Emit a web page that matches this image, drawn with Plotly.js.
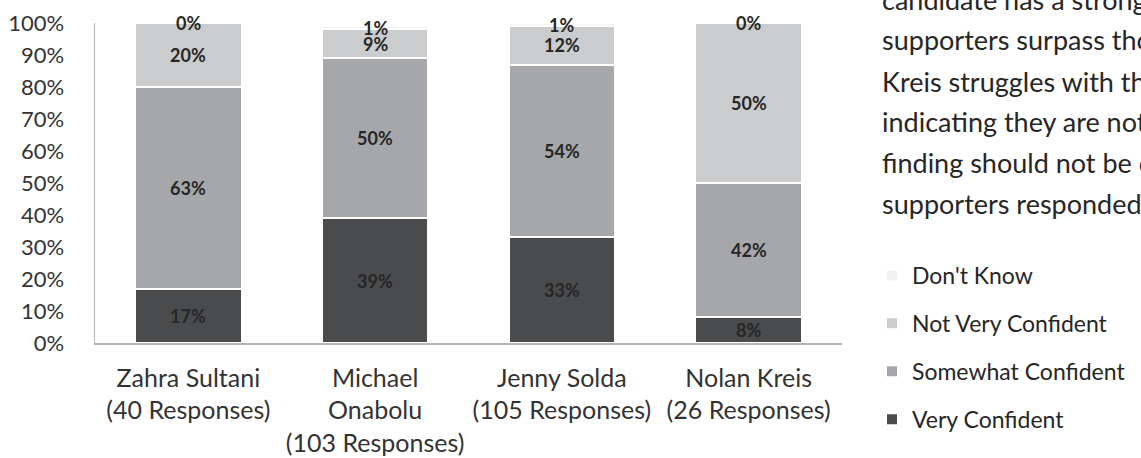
<!DOCTYPE html>
<html>
<head>
<meta charset="utf-8">
<script src="https://cdn.plot.ly/plotly-3.0.1.min.js"></script>
<style>
  html, body { margin: 0; padding: 0; background: #ffffff; }
  #chart { width: 1141px; height: 458px; }
</style>
</head>
<body>
<div id="chart"></div>
<script>
// ---- Data ----
const categories = [
  "Zahra Sultani<br>(40 Responses)",
  "Michael<br>Onabolu<br>(103 Responses)",
  "Jenny Solda<br>(105 Responses)",
  "Nolan Kreis<br>(26 Responses)"
];
const seriesNames = ["Very Confident", "Somewhat Confident", "Not Very Confident", "Don't Know"];
const veryConfident      = [17, 39, 33, 8];
const somewhatConfident  = [63, 50, 54, 42];
const notVeryConfident   = [20, 9, 12, 50];
const dontKnow           = [0, 1, 1, 0];
const sideTextLines = [
  "candidate has a strong base",
  "supporters surpass those of",
  "Kreis struggles with the most",
  "indicating they are not sure",
  "finding should not be over-read",
  "supporters responded."
];

// ---- Styles ----
const FONT = "Lato, 'Open Sans', 'DejaVu Sans', sans-serif";
const colors = ["#4a4b4d", "#a6a7aa", "#cbcccd", "#f2f2f2"];
const allSeries = [veryConfident, somewhatConfident, notVeryConfident, dontKnow];

const traces = allSeries.map((vals, i) => ({
  type: "bar",
  name: seriesNames[i],
  x: categories,
  y: vals,
  marker: { color: colors[i], line: { color: "#ffffff", width: 2 } },
  legendgroup: "g" + i,
  legendrank: 10 - i,
  hoverinfo: "skip"
}));

// value labels placed at the centre of each stacked segment
const annotations = [];
categories.forEach((cat, ci) => {
  let base = 0;
  allSeries.forEach((vals) => {
    const v = vals[ci];
    annotations.push({
      x: cat, y: base + v / 2, xref: "x", yref: "y",
      text: v + "%", showarrow: false,
      font: { family: FONT, size: 18, color: "#262626", weight: "bold" },
      xanchor: "center", yanchor: "middle"
    });
    base += v;
  });
});

// side paragraph (cropped at the right edge)
const plotTop = 23, plotH = 320, plotL = 95, plotW = 747;
const lineCentersPx = [-1, 40, 81, 122, 162, 203];
sideTextLines.forEach((t, i) => {
  annotations.push({
    xref: "paper", yref: "paper",
    x: (880 - plotL) / plotW,
    y: (plotTop + plotH - lineCentersPx[i]) / plotH,
    xanchor: "left", yanchor: "middle",
    text: t, showarrow: false, align: "left",
    font: { family: FONT, size: 27, color: "#262626" }
  });
});

const layout = {
  width: 1141, height: 458,
  margin: { l: 95, r: 299, t: 23, b: 115, autoexpand: false },
  paper_bgcolor: "#ffffff", plot_bgcolor: "#ffffff",
  barmode: "stack",
  bargap: 0.43,
  showlegend: true,
  font: { family: FONT, color: "#333333" },
  xaxis: {
    type: "category", automargin: false,
    showgrid: false, zeroline: false,
    showline: true, linecolor: "#b5b5b5", linewidth: 1.5,
    ticks: "", ticklabelstandoff: 12,
    tickfont: { family: FONT, size: 25, color: "#333333" },
    fixedrange: true
  },
  yaxis: {
    range: [0, 100], automargin: false,
    dtick: 10, ticksuffix: "%",
    showgrid: false, zeroline: false,
    showline: true, linecolor: "#b5b5b5", linewidth: 1.5,
    ticks: "", ticklabelstandoff: 25,
    tickfont: { family: FONT, size: 22, color: "#333333" },
    fixedrange: true
  },
  legend: {
    x: (872 - plotL) / plotW, xanchor: "left",
    y: (plotTop + plotH - 254) / plotH, yanchor: "top",
    traceorder: "grouped",
    tracegroupgap: 15,
    font: { family: FONT, size: 23, color: "#262626" },
    bgcolor: "rgba(0,0,0,0)"
  },
  annotations: annotations
};

Plotly.newPlot("chart", traces, layout, { displayModeBar: false, staticPlot: true });
</script>
</body>
</html>
